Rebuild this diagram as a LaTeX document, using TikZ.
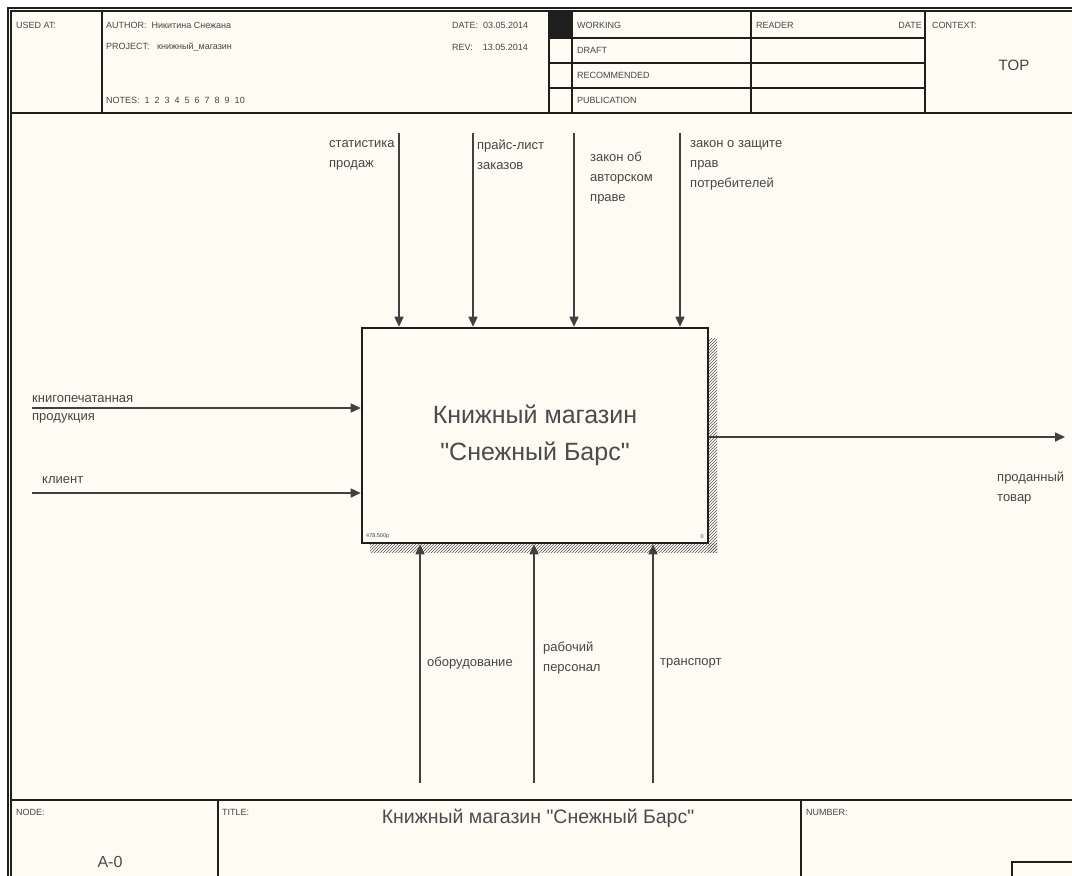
\documentclass[tikz,border=0pt]{standalone}
\usepackage{fontspec}
\setmainfont{Liberation Sans}
\usetikzlibrary{arrows.meta,patterns}
\definecolor{paper}{RGB}{254,251,243}
\definecolor{ink}{RGB}{30,30,30}
\definecolor{lbl}{RGB}{70,70,70}
\newcommand{\qq}{\textquotedbl}
\begin{document}
\begin{tikzpicture}[x=1pt,y=-1pt,
  frame/.style={draw=ink,line width=1.3pt},
  hdr/.style={font=\fontsize{9}{10}\selectfont,text=lbl,inner sep=0pt,anchor=west},
  lab/.style={font=\fontsize{13}{20}\selectfont,text=lbl,inner sep=0pt,align=left},
  arr/.style={draw=ink!85,line width=1.6pt,-{Triangle[length=10pt,width=9pt]}},
  fn/.style={draw=ink,line width=2.6pt,fill=paper,minimum width=346pt,minimum height=215pt,inner sep=0pt,
    font=\fontsize{25}{37}\selectfont,align=center,text=ink!80}]
\useasboundingbox (0,0) rectangle (1072,876);
\fill[white] (0,0) rectangle (1072,876);
\fill[paper] (8,8) rectangle (1072,876);
% outer frame
\draw[frame] (8,876) -- (8,8) -- (1072,8);
\draw[frame] (11,876) -- (11,11) -- (1072,11);
% header
\draw[frame] (11,113) -- (1072,113);
\draw[frame] (102,11) -- (102,113);
\draw[frame] (549,11) -- (549,113);
\draw[frame] (572,11) -- (572,113);
\draw[frame] (751,11) -- (751,113);
\draw[frame] (925,11) -- (925,113);
\draw[frame] (549,38) -- (925,38);
\draw[frame] (549,63) -- (925,63);
\draw[frame] (549,88) -- (925,88);
\fill[ink] (549,11) rectangle (572,38);
\node[hdr] (usedat) at (16,25) {USED AT:};
\node[hdr] (author) at (106,25) {AUTHOR:\ \ Никитина Снежана};
\node[hdr] (project) at (106,47) {PROJECT:\ \ \ книжный\_магазин};
\node[hdr] (notes) at (106,100) {NOTES:\ \ 1\ \ 2\ \ 3\ \ 4\ \ 5\ \ 6\ \ 7\ \ 8\ \ 9\ \ 10};
\node[hdr] (date) at (452,25) {DATE:\ \ 03.05.2014};
\node[hdr] (rev) at (452,47) {REV:\ \ \ \ 13.05.2014};
\node[hdr] (working) at (577,25) {WORKING};
\node[hdr] (draft) at (577,50) {DRAFT};
\node[hdr] (recom) at (577,75) {RECOMMENDED};
\node[hdr] (publ) at (577,100) {PUBLICATION};
\node[hdr] (reader) at (756,25) {READER};
\node[hdr,anchor=east] (rdate) at (922,25) {DATE};
\node[hdr] (context) at (932,25) {CONTEXT:};
\node[font=\fontsize{15}{16}\selectfont,text=lbl,inner sep=0pt] (top) at (1014,65) {TOP};
% footer
\draw[frame] (11,800) -- (1072,800);
\draw[frame] (218,800) -- (218,876);
\draw[frame] (801,800) -- (801,876);
\draw[frame] (1072,862) -- (1012,862) -- (1012,876);
\node[hdr] (node) at (16,812) {NODE:};
\node[hdr] (titlel) at (222,812) {TITLE:};
\node[hdr] (number) at (806,812) {NUMBER:};
\node[font=\fontsize{16}{18}\selectfont,text=ink!80,inner sep=0pt] (a0) at (110,862) {A-0};
\node[font=\fontsize{19.5}{20}\selectfont,text=ink!80,inner sep=0pt] (ftitle) at (538,818) {Книжный магазин \qq Снежный Барс\qq};
% shadow
\fill[pattern=north east lines,pattern color=ink!75] (708,338) rectangle (717,552);
\fill[pattern=north east lines,pattern color=ink!75] (370,543) rectangle (717,552);
% main box
\node[fn] (box) at (535,435.5) {Книжный магазин\\\qq Снежный Барс\qq};
\node[font=\fontsize{5.5}{6}\selectfont,text=lbl,inner sep=0pt,anchor=south west] (cost) at (366,539) {478.500р};
\node[font=\fontsize{5.5}{6}\selectfont,text=lbl,inner sep=0pt,anchor=south east] (num) at (704,539) {0};
% controls
\coordinate (c1) at (399,133);
\coordinate (c2) at (473,133);
\coordinate (c3) at (574,133);
\coordinate (c4) at (680,133);
\draw[arr] (c1) -- (c1 |- box.north);
\draw[arr] (c2) -- (c2 |- box.north);
\draw[arr] (c3) -- (c3 |- box.north);
\draw[arr] (c4) -- (c4 |- box.north);
\node[lab,anchor=north west] (l1) at (329,140) {статистика\\продаж};
\node[lab,anchor=north west] (l2) at (477,140) {прайс-лист\\заказов};
\node[lab,anchor=north west] (l3) at (590,152) {закон об\\авторском\\праве};
\node[lab,anchor=north west] (l4) at (690,140) {закон о защите\\прав\\потребителей};
% inputs
\coordinate (i1) at (32,408);
\coordinate (i2) at (32,493);
\draw[arr] (i1) -- (i1 -| box.west);
\draw[arr] (i2) -- (i2 -| box.west);
\node[lab,anchor=south west] (li1) at (32,403) {книгопечатанная};
\node[lab,anchor=north west] (li1b) at (32,413) {продукция};
\node[lab,anchor=south west] (li2) at (42,484) {клиент};
% output
\coordinate (o1) at (1065,437);
\draw[arr] (box.east |- o1) -- (o1);
\node[lab,anchor=north west] (lo1) at (997,472) {проданный\\товар};
% mechanisms
\coordinate (m1) at (420,783);
\coordinate (m2) at (534,783);
\coordinate (m3) at (653,783);
\draw[arr] (m1) -- (m1 |- box.south);
\draw[arr] (m2) -- (m2 |- box.south);
\draw[arr] (m3) -- (m3 |- box.south);
\node[lab,anchor=west] (lm1) at (427,663) {оборудование};
\node[lab,anchor=west] (lm2) at (543,658) {рабочий\\персонал};
\node[lab,anchor=west] (lm3) at (660,663) {транспорт};
\end{tikzpicture}
\end{document}
